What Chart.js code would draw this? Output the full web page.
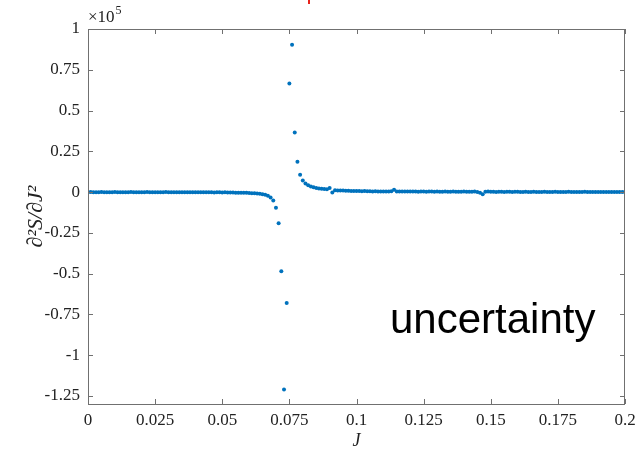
<!DOCTYPE html>
<html>
<head>
<meta charset="utf-8">
<script src="https://cdn.jsdelivr.net/npm/chart.js@4"></script>
<style>
  html, body { margin: 0; padding: 0; background: #fff; }
  canvas { display: block; }
</style>
</head>
<body>
<canvas id="chart" width="635" height="453"></canvas>
<script>
// coupling J, sampled every 0.001
const jValues = [
  0.000, 0.001, 0.002, 0.003, 0.004, 0.005, 0.006, 0.007, 0.008, 0.009,
  0.010, 0.011, 0.012, 0.013, 0.014, 0.015, 0.016, 0.017, 0.018, 0.019,
  0.020, 0.021, 0.022, 0.023, 0.024, 0.025, 0.026, 0.027, 0.028, 0.029,
  0.030, 0.031, 0.032, 0.033, 0.034, 0.035, 0.036, 0.037, 0.038, 0.039,
  0.040, 0.041, 0.042, 0.043, 0.044, 0.045, 0.046, 0.047, 0.048, 0.049,
  0.050, 0.051, 0.052, 0.053, 0.054, 0.055, 0.056, 0.057, 0.058, 0.059,
  0.060, 0.061, 0.062, 0.063, 0.064, 0.065, 0.066, 0.067, 0.068, 0.069,
  0.070, 0.071, 0.072, 0.073, 0.074, 0.075, 0.076, 0.077, 0.078, 0.079,
  0.080, 0.081, 0.082, 0.083, 0.084, 0.085, 0.086, 0.087, 0.088, 0.089,
  0.090, 0.091, 0.092, 0.093, 0.094, 0.095, 0.096, 0.097, 0.098, 0.099,
  0.100, 0.101, 0.102, 0.103, 0.104, 0.105, 0.106, 0.107, 0.108, 0.109,
  0.110, 0.111, 0.112, 0.113, 0.114, 0.115, 0.116, 0.117, 0.118, 0.119,
  0.120, 0.121, 0.122, 0.123, 0.124, 0.125, 0.126, 0.127, 0.128, 0.129,
  0.130, 0.131, 0.132, 0.133, 0.134, 0.135, 0.136, 0.137, 0.138, 0.139,
  0.140, 0.141, 0.142, 0.143, 0.144, 0.145, 0.146, 0.147, 0.148, 0.149,
  0.150, 0.151, 0.152, 0.153, 0.154, 0.155, 0.156, 0.157, 0.158, 0.159,
  0.160, 0.161, 0.162, 0.163, 0.164, 0.165, 0.166, 0.167, 0.168, 0.169,
  0.170, 0.171, 0.172, 0.173, 0.174, 0.175, 0.176, 0.177, 0.178, 0.179,
  0.180, 0.181, 0.182, 0.183, 0.184, 0.185, 0.186, 0.187, 0.188, 0.189,
  0.190, 0.191, 0.192, 0.193, 0.194, 0.195, 0.196, 0.197, 0.198, 0.199,
  0.200
];

// d2S/dJ2 in units of 1e5
const d2S = [
  -0.001, 0.000, -0.001, -0.002, -0.001, 0.000, -0.001, -0.001, -0.002, -0.001,
  0.000, -0.001, -0.001, -0.002, -0.001, -0.001, 0.000, -0.001, -0.002, -0.001,
  -0.001, -0.001, 0.000, -0.001, -0.002, -0.001, -0.001, -0.002, -0.001, 0.000,
  -0.001, -0.002, -0.001, -0.001, -0.002, -0.001, -0.001, -0.002, -0.002, -0.001,
  -0.002, -0.001, -0.002, -0.002, -0.001, -0.002, -0.002, -0.003, -0.002, -0.002,
  -0.003, -0.002, -0.003, -0.003, -0.003, -0.004, -0.004, -0.004, -0.005, -0.005,
  -0.006, -0.007, -0.008, -0.009, -0.011, -0.013, -0.017, -0.023, -0.033, -0.052,
  -0.097, -0.192, -0.486, -1.211, -0.681, 0.665, 0.904, 0.365, 0.186, 0.106,
  0.071, 0.053, 0.041, 0.034, 0.029, 0.025, 0.022, 0.020, 0.018, 0.017,
  0.025, -0.003, 0.011, 0.010, 0.009, 0.009, 0.008, 0.008, 0.007, 0.007,
  0.006, 0.006, 0.005, 0.006, 0.005, 0.005, 0.004, 0.005, 0.004, 0.004,
  0.004, 0.003, 0.004, 0.005, 0.014, 0.004, 0.003, 0.004, 0.003, 0.003,
  0.004, 0.003, 0.003, 0.002, 0.003, 0.003, 0.002, 0.003, 0.003, 0.002,
  0.003, 0.002, 0.002, 0.003, 0.002, 0.002, 0.003, 0.002, 0.002, 0.002,
  0.003, 0.002, 0.002, 0.002, 0.003, 0.001, -0.004, -0.013, 0.002, 0.003,
  0.002, 0.002, 0.001, 0.002, 0.002, 0.001, 0.002, 0.002, 0.001, 0.002,
  0.002, 0.001, 0.001, 0.002, 0.001, 0.001, 0.002, 0.001, 0.001, 0.001,
  0.002, 0.001, 0.001, 0.001, 0.002, 0.001, 0.001, 0.001, 0.001, 0.002,
  0.001, 0.001, 0.001, 0.001, 0.001, 0.002, 0.001, 0.001, 0.000, 0.001,
  0.001, 0.001, 0.000, 0.001, 0.001, 0.001, 0.000, 0.001, 0.001, 0.000,
  0.001
];

const xTicks = [0, 0.025, 0.05, 0.075, 0.1, 0.125, 0.15, 0.175, 0.2];
const xTickLabels = ['0', '0.025', '0.05', '0.075', '0.1', '0.125', '0.15', '0.175', '0.2'];
const yTicks = [1, 0.75, 0.5, 0.25, 0, -0.25, -0.5, -0.75, -1, -1.25];
const yTickLabels = ['1', '0.75', '0.5', '0.25', '0', '-0.25', '-0.5', '-0.75', '-1', '-1.25'];

const axisColor = '#707070';
const textColor = '#222';
const serif = "'Liberation Serif', 'DejaVu Serif', serif";

// MATLAB style box with inward ticks, exponent label and overlay text
const frameTicks = {
  id: 'frameTicks',
  afterDatasetsDraw(chart) {
    const {ctx, chartArea: a, scales: {x, y}} = chart;
    const len = 5;
    ctx.save();
    ctx.strokeStyle = axisColor;
    ctx.lineWidth = 1;
    ctx.strokeRect(a.left + 0.5, a.top + 0.5, a.right - a.left - 1, a.bottom - a.top);
    ctx.beginPath();
    xTicks.forEach(v => {
      const px = Math.round(x.getPixelForValue(v)) + 0.5;
      ctx.moveTo(px, a.bottom); ctx.lineTo(px, a.bottom - len);
      ctx.moveTo(px, a.top); ctx.lineTo(px, a.top + len);
    });
    yTicks.forEach(v => {
      const py = Math.round(y.getPixelForValue(v)) + 0.5;
      ctx.moveTo(a.left, py); ctx.lineTo(a.left + len, py);
      ctx.moveTo(a.right, py); ctx.lineTo(a.right - len, py);
    });
    ctx.stroke();

    // x10^5 multiplier above the y axis
    ctx.fillStyle = textColor;
    ctx.textBaseline = 'alphabetic';
    ctx.font = `17px ${serif}`;
    ctx.fillText('\u00d710', a.left, a.top - 7);
    const w = ctx.measureText('\u00d710').width;
    ctx.font = `12px ${serif}`;
    ctx.fillText('5', a.left + w + 1, a.top - 15);
    ctx.restore();
  },
  afterDraw(chart) {
    const {ctx} = chart;
    ctx.save();
    ctx.fillStyle = '#000';
    ctx.font = "42px 'Liberation Sans', Arial, sans-serif";
    ctx.textBaseline = 'alphabetic';
    ctx.fillText('uncertainty', 390, 333);
    // small red stroke at the top edge
    ctx.fillStyle = '#e8231c';
    ctx.fillRect(308, 0, 2, 4);
    ctx.restore();
  }
};

const ctx = document.getElementById('chart').getContext('2d');
new Chart(ctx, {
  type: 'scatter',
  data: {
    datasets: [{
      data: jValues.map((j, i) => ({x: j, y: d2S[i]})),
      backgroundColor: '#0072BD',
      borderColor: '#0072BD',
      pointRadius: 2,
      pointBorderWidth: 0,
      showLine: false
    }]
  },
  options: {
    responsive: false,
    animation: false,
    devicePixelRatio: 1,
    layout: {padding: {top: 29, right: 10, left: 0, bottom: 0}},
    plugins: {legend: {display: false}, tooltip: {enabled: false}},
    scales: {
      x: {
        type: 'linear',
        min: 0,
        max: 0.2,
        afterBuildTicks: s => { s.ticks = xTicks.map(v => ({value: v})); },
        afterFit: s => { s.height = 49; s.paddingLeft = 0; s.paddingRight = 0; },
        border: {display: false},
        grid: {display: false, drawTicks: false},
        ticks: {
          padding: 6,
          color: textColor,
          font: {family: serif, size: 17},
          maxRotation: 0,
          autoSkip: false,
          callback: (v, i) => xTickLabels[i]
        },
        title: {
          display: true,
          text: 'J',
          color: textColor,
          font: {family: serif, size: 18, style: 'italic'},
          padding: {top: 0, bottom: 1}
        }
      },
      y: {
        type: 'linear',
        min: -1.3,
        max: 1,
        afterBuildTicks: s => { s.ticks = yTicks.map(v => ({value: v})); },
        afterFit: s => { s.width = 88; s.paddingTop = 0; s.paddingBottom = 0; },
        border: {display: false},
        grid: {display: false, drawTicks: false},
        ticks: {
          padding: 8,
          color: textColor,
          font: {family: serif, size: 17},
          autoSkip: false,
          callback: (v, i) => yTickLabels[i]
        },
        title: {
          display: true,
          text: '\u2202\u00b2S/\u2202J\u00b2',
          color: textColor,
          font: {family: serif, size: 22, style: 'italic'},
          padding: {top: 23, bottom: 0}
        }
      }
    }
  },
  plugins: [frameTicks]
});
</script>
</body>
</html>
